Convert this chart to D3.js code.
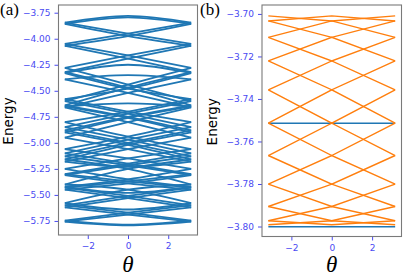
<!DOCTYPE html>
<html>
<head>
<meta charset="utf-8">
<script src="https://cdn.jsdelivr.net/npm/d3@7/dist/d3.min.js"></script>
<style>
  body { margin: 0; background: #fff; }
  svg { display: block; }
</style>
</head>
<body>
<script>
// --- donnees ---

// positions en theta des noeuds de chaque courbe (bord gauche, centre, bord droit)
const thetaNoeuds = [-Math.PI, 0, Math.PI]

// (a) : niveaux en alternance centre / bord, du haut vers le bas
const bandeA1 = [-3.780, -3.846, -3.950, -4.050, -4.160, -4.280, -4.440, -4.600, -4.720, -4.850,
  -4.970, -5.100, -5.200, -5.300, -5.370, -5.430, -5.510, -5.600, -5.670, -5.746, -5.785]
const bandeA1b = [-3.795, -3.858, -3.975, -4.068, -4.190, -4.320, -4.470, -4.640, -4.750, -4.880,
  -5.000, -5.130, -5.215, -5.310, -5.390, -5.450, -5.530, -5.620, -5.690, -5.756, -5.792]
const bandeA2 = [-4.250, -4.330, -4.480, -4.580, -4.700, -4.800, -4.940, -5.060, -5.150, -5.250, -5.350, -5.420, -5.480]
const bandeA3 = [-4.620, -4.650, -4.760, -4.900, -5.020, -5.160, -5.250, -5.400, -5.450, -5.580, -5.640]
const bandeA4 = [-4.350, -4.390, -4.520, -4.660, -4.800, -4.950, -5.060, -5.180, -5.230]

// (b) : niveaux (memes valeurs au bord et au centre), du bas vers le haut
const niveauxB = [-3.7992, -3.7973, -3.7906, -3.7801, -3.7666, -3.7514, -3.7357, -3.7221, -3.7110, -3.7033, -3.7009]
// (b) : bandes plates en bleu
const platsB = [-3.7514, -3.8001]

const ticksA = [-5.75, -5.5, -5.25, -5.0, -4.75, -4.5, -4.25, -4.0, -3.75]
const ticksB = [-3.80, -3.78, -3.76, -3.74, -3.72, -3.70]
const ticksTheta = [-2, 0, 2]

const bleu = "#1f77b4"
const orange = "#ff7f0e"
const couleurTicks = "#4a4af2"

// --- construction des courbes ---

// escalier : bord k -> centre -> bord k+1, plus son miroir, et les arches aux extremites
function courbesEscalier(noeuds) {
  let courbes = []
  let n = noeuds.length
  courbes.push([noeuds[1], noeuds[0], noeuds[1]])
  for (let i = 1; i + 2 < n; i += 2) {
    courbes.push([noeuds[i], noeuds[i + 1], noeuds[i + 2]])
    courbes.push([noeuds[i + 2], noeuds[i + 1], noeuds[i]])
  }
  if (n % 2 == 1) {
    courbes.push([noeuds[n - 2], noeuds[n - 1], noeuds[n - 2]])
  }
  return courbes
}

// zigzag : chaque paire de niveaux voisins donne un V et un V inverse
function courbesZigzag(niveaux) {
  let courbes = []
  for (let k = 0; k + 1 < niveaux.length; k++) {
    courbes.push([niveaux[k], niveaux[k + 1], niveaux[k]])
    courbes.push([niveaux[k + 1], niveaux[k], niveaux[k + 1]])
  }
  return courbes
}

let courbesA = []
for (const bande of [bandeA1, bandeA1b, bandeA2, bandeA3, bandeA4]) {
  courbesA.push(...courbesEscalier(bande))
}
let courbesB = courbesZigzag(niveauxB)

// --- svg ---
let width = 409, height = 275
let svg = d3.select("body").append("svg")
  .attr("width", width)
  .attr("height", height)

function dessinerPanneau(p) {
  let x = d3.scaleLinear().domain([-Math.PI * 1.1, Math.PI * 1.1]).range([p.gauche, p.droite])
  let y = d3.scaleLinear().domain(p.domaineY).range([p.bas, p.haut])

  let g = svg.append("g")

  g.append("clipPath").attr("id", "clip" + p.nom)
    .append("rect")
    .attr("x", p.gauche).attr("y", p.haut)
    .attr("width", p.droite - p.gauche).attr("height", p.bas - p.haut)

  let traces = g.append("g").attr("clip-path", "url(#clip" + p.nom + ")")

  let ligne = d3.line()
    .x((d, i) => x(thetaNoeuds[i]))
    .y(d => y(d))
    .curve(p.courbe)

  // bandes plates d'abord (sous les autres)
  traces.selectAll(".plat")
    .data(p.plats)
    .enter()
    .append("path")
    .attr("d", d => ligne([d, d, d]))
    .attr("fill", "none")
    .attr("stroke", bleu)
    .attr("stroke-width", 1.4)

  traces.selectAll(".courbe")
    .data(p.courbes)
    .enter()
    .append("path")
    .attr("d", d => ligne(d))
    .attr("fill", "none")
    .attr("stroke", p.couleur)
    .attr("stroke-width", p.epaisseur)

  // axes
  let axeY = d3.axisLeft(y).tickValues(p.ticks).tickFormat(d3.format(".2f")).tickSize(4).tickPadding(4)
  let axeX = d3.axisBottom(x).tickValues(ticksTheta).tickFormat(d3.format("d")).tickSize(4).tickPadding(4)

  let gy = g.append("g").attr("transform", "translate(" + p.gauche + ",0)").call(axeY)
  let gx = g.append("g").attr("transform", "translate(0," + p.bas + ")").call(axeX)

  for (const ax of [gx, gy]) {
    ax.select(".domain").remove()
    ax.selectAll("line").attr("stroke", couleurTicks).attr("stroke-width", 1)
    ax.selectAll("text")
      .attr("fill", couleurTicks)
      .style("font-family", "DejaVu Sans")
      .style("font-size", "9px")
  }

  // cadre
  g.append("rect")
    .attr("x", p.gauche).attr("y", p.haut)
    .attr("width", p.droite - p.gauche).attr("height", p.bas - p.haut)
    .attr("fill", "none")
    .attr("stroke", "#7a7a7a")
    .attr("stroke-width", 1.1)

  // titres
  g.append("text")
    .attr("transform", "translate(" + (p.gauche - 45.5) + "," + ((p.haut + p.bas) / 2 + 1) + ") rotate(-90)")
    .attr("text-anchor", "middle")
    .style("font-family", "DejaVu Sans")
    .style("font-size", "13.5px")
    .text("Energy")

  g.append("text")
    .attr("x", (p.gauche + p.droite) / 2)
    .attr("y", 271.5)
    .attr("text-anchor", "middle")
    .style("font-family", "Liberation Serif")
    .style("font-style", "italic")
    .style("font-size", "23px")
    .text("θ")

  g.append("text")
    .attr("x", p.xLettre)
    .attr("y", 15)
    .style("font-family", "Liberation Serif")
    .style("font-size", "17px")
    .text(p.lettre)
}

dessinerPanneau({
  nom: "A", lettre: "(a)", xLettre: 0,
  gauche: 58.5, droite: 197.5, haut: 5, bas: 235,
  domaineY: [-5.885, -3.676], ticks: ticksA,
  courbes: courbesA, plats: [], couleur: bleu, epaisseur: 1.8,
  courbe: d3.curveMonotoneX
})

dessinerPanneau({
  nom: "B", lettre: "(b)", xLettre: 200,
  gauche: 262, droite: 401.5, haut: 5, bas: 236.5,
  domaineY: [-3.8047, -3.6958], ticks: ticksB,
  courbes: courbesB, plats: platsB, couleur: orange, epaisseur: 1.4,
  courbe: d3.curveLinear
})
</script>
</body>
</html>
